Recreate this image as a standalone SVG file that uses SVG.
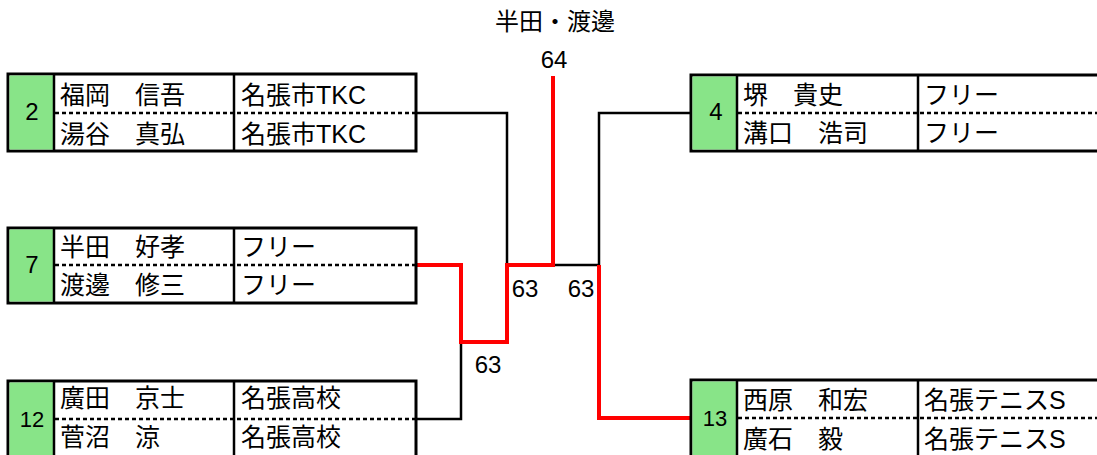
<svg xmlns="http://www.w3.org/2000/svg" width="1097" height="455" viewBox="0 0 1097 455">
<style>
text{font-family:"Liberation Sans","Noto Sans CJK JP",sans-serif;fill:#000}
.t{font-size:25px}
.n{font-size:24px;text-anchor:middle}
.n2{font-size:22px;text-anchor:middle}
.s{font-size:24px;text-anchor:middle}
.title{font-size:24px;text-anchor:middle}
.box{fill:#fff;stroke:#000;stroke-width:3}
.g{fill:#88e488}
.div{stroke:#000;stroke-width:2.5}
.dash{stroke:#000;stroke-width:2.5;stroke-dasharray:4 3}
.bk{fill:none;stroke:#000;stroke-width:2.5}
.rd{fill:none;stroke:#ff0000;stroke-width:4}
</style>
<rect width="1097" height="455" fill="#fff"/>
<text class="title" x="555" y="30">半田・渡邊</text>
<g id="connectors">
<path class="bk" d="M416 113 H507 V265"/>
<path class="bk" d="M416 419 H461 V342"/>
<path class="bk" d="M553 265 H599"/>
<path class="bk" d="M691 113 H599 V265"/>
<path class="rd" d="M416 265 H461 V342 H507 V265 H553 V76"/>
<path class="rd" d="M599 265 V418 H691"/>
<text class="s" x="554" y="68">64</text>
<text class="s" x="525" y="297">63</text>
<text class="s" x="581" y="297">63</text>
<text class="s" x="488" y="373">63</text>
</g>
<g id="node-2">
<rect class="box" x="8" y="74" width="408" height="77"/>
<rect class="g" x="9.5" y="75.5" width="44.5" height="74"/>
<line class="div" x1="54" y1="74" x2="54" y2="151"/>
<line class="div" x1="234" y1="74" x2="234" y2="151"/>
<line class="dash" x1="55" y1="113" x2="415" y2="113"/>
<text class="n" x="32" y="120">2</text>
<text class="t" x="60" y="104">福岡　信吾</text>
<text class="t" x="60" y="143">湯谷　真弘</text>
<text class="t" x="241" y="104">名張市TKC</text>
<text class="t" x="241" y="143">名張市TKC</text>
</g>
<g id="node-7">
<rect class="box" x="8" y="228" width="408" height="75"/>
<rect class="g" x="9.5" y="229.5" width="44.5" height="72"/>
<line class="div" x1="54" y1="228" x2="54" y2="303"/>
<line class="div" x1="234" y1="228" x2="234" y2="303"/>
<line class="dash" x1="55" y1="265" x2="415" y2="265"/>
<text class="n" x="32" y="273">7</text>
<text class="t" x="60" y="256">半田　好孝</text>
<text class="t" x="60" y="294">渡邊　修三</text>
<text class="t" x="241" y="256">フリー</text>
<text class="t" x="241" y="294">フリー</text>
</g>
<g id="node-12">
<rect class="box" x="8" y="381" width="408" height="82"/>
<rect class="g" x="9.5" y="382.5" width="44.5" height="79"/>
<line class="div" x1="54" y1="381" x2="54" y2="463"/>
<line class="div" x1="234" y1="381" x2="234" y2="463"/>
<line class="dash" x1="55" y1="419" x2="415" y2="419"/>
<text class="n2" x="32" y="427">12</text>
<text class="t" x="60" y="407">廣田　京士</text>
<text class="t" x="60" y="446">菅沼　涼</text>
<text class="t" x="241" y="407">名張高校</text>
<text class="t" x="241" y="446">名張高校</text>
</g>
<g id="node-4">
<rect class="box" x="691" y="75" width="420" height="76"/>
<rect class="g" x="692.5" y="76.5" width="44.5" height="73"/>
<line class="div" x1="737" y1="75" x2="737" y2="151"/>
<line class="div" x1="918" y1="75" x2="918" y2="151"/>
<line class="dash" x1="738" y1="113" x2="1097" y2="113"/>
<text class="n" x="716" y="120">4</text>
<text class="t" x="743" y="104">堺　貴史</text>
<text class="t" x="743" y="142">溝口　浩司</text>
<text class="t" x="924" y="104">フリー</text>
<text class="t" x="924" y="142">フリー</text>
</g>
<g id="node-13">
<rect class="box" x="691" y="380" width="420" height="82"/>
<rect class="g" x="692.5" y="381.5" width="44.5" height="79"/>
<line class="div" x1="737" y1="380" x2="737" y2="462"/>
<line class="div" x1="918" y1="380" x2="918" y2="462"/>
<line class="dash" x1="738" y1="418" x2="1097" y2="418"/>
<text class="n2" x="715" y="426">13</text>
<text class="t" x="743" y="409">西原　和宏</text>
<text class="t" x="743" y="448">廣石　毅</text>
<text class="t" x="924" y="409">名張テニスS</text>
<text class="t" x="924" y="448">名張テニスS</text>
</g>
</svg>
